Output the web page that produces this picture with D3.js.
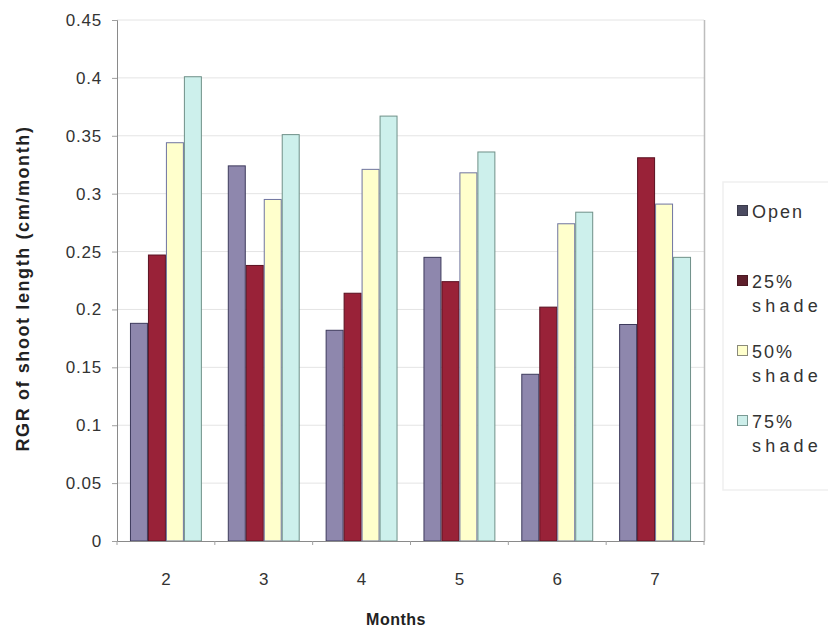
<!DOCTYPE html>
<html>
<head>
<meta charset="utf-8">
<script src="https://cdn.jsdelivr.net/npm/d3@7"></script>
<style>
  html, body { margin: 0; padding: 0; background: #ffffff; }
  svg { display: block; font-family: "Liberation Sans", Arial, Helvetica, sans-serif; }
</style>
</head>
<body>
<svg id="chart" width="828" height="635"></svg>
<script>
// Relative growth rate of shoot length by month and shade treatment
const months = ["2", "3", "4", "5", "6", "7"];
const seriesNames = ["Open", "25% shade", "50% shade", "75% shade"];
const openVals   = [0.188, 0.324, 0.182, 0.245, 0.144, 0.187];
const shade25    = [0.247, 0.238, 0.214, 0.224, 0.202, 0.331];
const shade50    = [0.344, 0.295, 0.321, 0.318, 0.274, 0.291];
const shade75    = [0.401, 0.351, 0.367, 0.336, 0.284, 0.245];
const yTicks = [0, 0.05, 0.1, 0.15, 0.2, 0.25, 0.3, 0.35, 0.4, 0.45];

const seriesValues = [openVals, shade25, shade50, shade75];
const fills   = ["#8e87ad", "#992238", "#ffffcc", "#cdf0ec"];
const strokes = ["#3d3a5c", "#5a1020", "#6f74a0", "#6f9088"];
const legendFills   = ["#4a4a60", "#5e1f2b", "#ffffcc", "#cdeeea"];
const legendStrokes = ["#3a3a4a", "#4a1822", "#8a8a7a", "#7a9a94"];

const svg = d3.select("#chart");
const plot = { left: 117, right: 704, top: 20, bottom: 541 };

const x0 = d3.scaleBand().domain(months)
  .range([plot.left, plot.right])
  .paddingInner(0.265).paddingOuter(0.1325);
const x1 = d3.scaleBand().domain(d3.range(seriesNames.length))
  .range([0, x0.bandwidth()]);
const y = d3.scaleLinear().domain([0, 0.45]).range([plot.bottom, plot.top]);

// horizontal gridlines
svg.append("g").selectAll("line").data(yTicks.filter(t => t > 0)).join("line")
  .attr("x1", plot.left).attr("x2", plot.right)
  .attr("y1", d => y(d)).attr("y2", d => y(d))
  .attr("stroke", "#e4e4e4").attr("stroke-width", 1);

// right edge of the plot area
svg.append("line")
  .attr("x1", plot.right + 0.5).attr("x2", plot.right + 0.5)
  .attr("y1", plot.top).attr("y2", plot.bottom)
  .attr("stroke", "#bdbdbd").attr("stroke-width", 1.5);

// bars
const rows = months.map((m, i) => ({ month: m, vals: seriesValues.map(s => s[i]) }));
const groups = svg.append("g").selectAll("g").data(rows).join("g")
  .attr("transform", d => `translate(${x0(d.month)},0)`);
groups.selectAll("rect").data(d => d.vals.map((v, k) => ({ v, k }))).join("rect")
  .attr("x", d => x1(d.k) + 0.5)
  .attr("width", x1.bandwidth() - 1)
  .attr("y", d => y(d.v))
  .attr("height", d => y(0) - y(d.v))
  .attr("fill", d => fills[d.k])
  .attr("stroke", d => strokes[d.k])
  .attr("stroke-width", 1);

// y axis
const yAxis = svg.append("g")
  .attr("transform", `translate(${plot.left},0)`)
  .call(d3.axisLeft(y).tickValues(yTicks).tickSize(5).tickPadding(10)
    .tickFormat(d => d === 0 ? "0" : String(+d.toFixed(2))));
yAxis.select(".domain").attr("stroke", "#8a8a8a");
yAxis.selectAll(".tick line").attr("stroke", "#a0a0a0");
yAxis.selectAll(".tick text").attr("font-size", 17).attr("letter-spacing", 0.8).attr("fill", "#333");

// x axis
const xAxis = svg.append("g")
  .attr("transform", `translate(0,${plot.bottom})`)
  .call(d3.axisBottom(x0).tickSize(0).tickPadding(32));
xAxis.select(".domain").attr("stroke", "#8a8a8a");
xAxis.selectAll(".tick text").attr("font-size", 17).attr("fill", "#333");
// category separators below the axis
svg.append("g").selectAll("line")
  .data(d3.range(months.length + 1))
  .join("line")
  .attr("x1", i => plot.left + i * x0.step()).attr("x2", i => plot.left + i * x0.step())
  .attr("y1", plot.bottom).attr("y2", plot.bottom + 4)
  .attr("stroke", "#a0a0a0");

// axis titles
svg.append("text")
  .attr("x", 396).attr("y", 625)
  .attr("text-anchor", "middle")
  .attr("font-size", 16).attr("font-weight", "bold").attr("fill", "#222")
  .attr("letter-spacing", 0.5)
  .text("Months");
svg.append("text")
  .attr("transform", `translate(29,${(plot.top + plot.bottom) / 2 + 8}) rotate(-90)`)
  .attr("text-anchor", "middle")
  .attr("font-size", 18).attr("font-weight", "bold").attr("fill", "#222")
  .attr("letter-spacing", 1.6)
  .text("RGR of shoot length (cm/month)");

// legend
const legend = svg.append("g");
legend.append("rect")
  .attr("x", 723).attr("y", 182).attr("width", 110).attr("height", 308)
  .attr("fill", "none").attr("stroke", "#efefef").attr("stroke-width", 1.5);
const legendY = [212, 282, 352, 422];
seriesNames.forEach((name, k) => {
  const ly = legendY[k];
  legend.append("rect")
    .attr("x", 737.5).attr("y", ly - 6.5).attr("width", 10).attr("height", 10)
    .attr("fill", legendFills[k]).attr("stroke", legendStrokes[k]).attr("stroke-width", 1);
  const parts = name.split(" ");
  const t = legend.append("text")
    .attr("x", 752).attr("y", ly + 6)
    .attr("font-size", 18).attr("fill", "#333");
  t.append("tspan").attr("x", 752).attr("letter-spacing", 2).text(parts[0]);
  if (parts[1]) {
    t.append("tspan").attr("x", 752).attr("dy", 24)
      .attr("letter-spacing", 4.2).text(parts[1]);
  }
});
</script>
</body>
</html>
